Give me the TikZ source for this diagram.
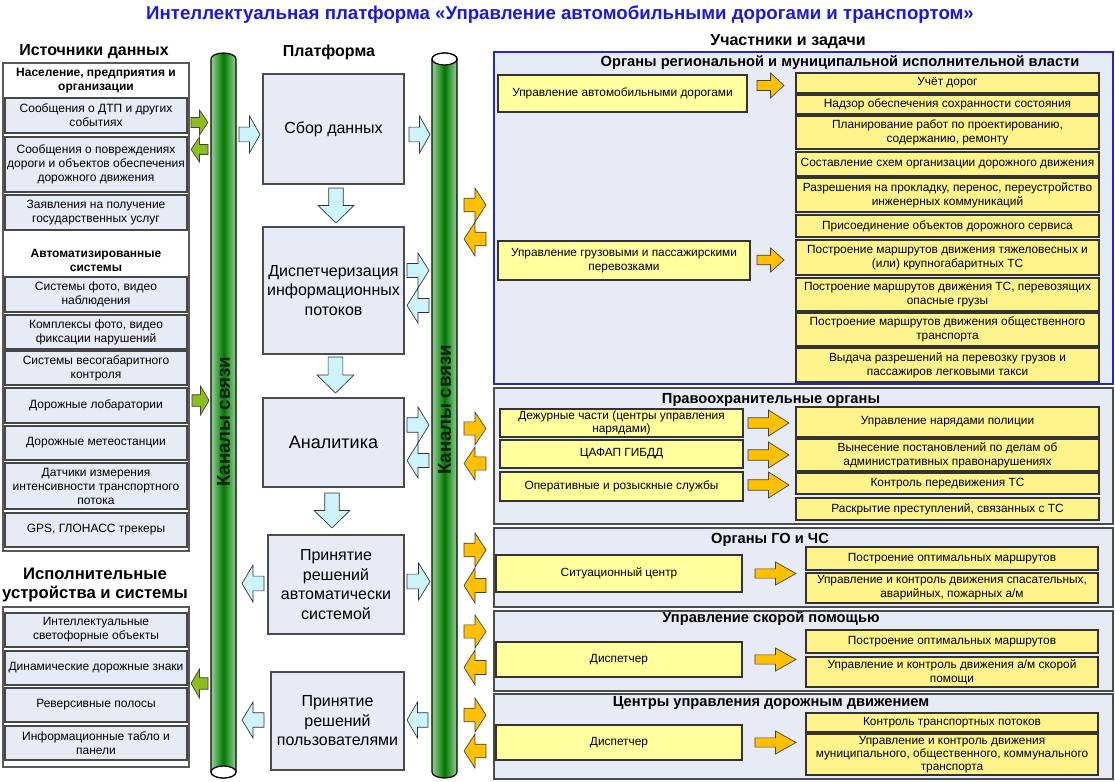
\documentclass[tikz,border=0pt]{standalone}
\usepackage{fontspec}
\setmainfont{Liberation Sans}
\definecolor{titleblue}{RGB}{25,25,228}
\definecolor{boxfill}{RGB}{230,235,245}
\definecolor{panelfill}{RGB}{231,235,245}
\definecolor{panelblue}{RGB}{40,40,195}
\definecolor{yelL}{RGB}{255,255,158}
\definecolor{yelR}{RGB}{255,244,140}
\definecolor{cyanfill}{RGB}{204,244,250}
\definecolor{orangefill}{RGB}{255,192,0}
\definecolor{greenarr}{RGB}{140,190,30}
\definecolor{pipeL}{RGB}{150,210,150}
\definecolor{pipeD}{RGB}{0,118,0}
\definecolor{pipetext}{RGB}{10,30,10}

\newcommand\bx[7]{%
 \pgfmathsetmacro\bxW{(#4-#2)*0.75}%
 \pgfmathsetmacro\bxH{(#5-#3)*0.75}%
 \node[#6, minimum width=\bxW pt, minimum height=\bxH pt] (#1) at ({(#2+#4)/2},{(#3+#5)/2}) {#7};}

\newcommand\arR[5]{%
 \pgfmathsetmacro\arwW{#3-#1}\pgfmathsetmacro\arwH{#4-#2}%
 \begin{scope}[shift={(#1,#2)}, xscale=\arwW, yscale=\arwH]
 \draw[#5] (0,0.3)--(0.5,0.3)--(0.5,0)--(1,0.5)--(0.5,1)--(0.5,0.7)--(0,0.7)--cycle;
 \end{scope}}
\newcommand\arL[5]{%
 \pgfmathsetmacro\arwW{#3-#1}\pgfmathsetmacro\arwH{#4-#2}%
 \begin{scope}[shift={(#3,#2)}, xscale=-\arwW, yscale=\arwH]
 \draw[#5] (0,0.3)--(0.5,0.3)--(0.5,0)--(1,0.5)--(0.5,1)--(0.5,0.7)--(0,0.7)--cycle;
 \end{scope}}
\newcommand\arD[5]{%
 \pgfmathsetmacro\arwW{#3-#1}\pgfmathsetmacro\arwH{#4-#2}%
 \begin{scope}[shift={(#1,#2)}, xscale=\arwW, yscale=\arwH]
 \draw[#5] (0.3,0)--(0.7,0)--(0.7,0.5)--(1,0.5)--(0.5,1)--(0,0.5)--(0.3,0.5)--cycle;
 \end{scope}}

\tikzset{
 lbox/.style={draw=black!72, line width=0.9pt, fill=boxfill, align=center, inner sep=0pt, font=\fontsize{9}{10.5}\selectfont},
 outerbox/.style={draw=black!65, line width=0.9pt, fill=white},
 cbox/.style={draw=black!70, line width=0.8pt, fill=boxfill, align=center, inner sep=0pt, font=\fontsize{12}{14.6}\selectfont},
 ybox/.style={draw=black!80, line width=0.8pt, fill=yelL, align=center, inner sep=0pt, font=\fontsize{8.9}{10.3}\selectfont},
 ybox2/.style={ybox, fill=yelR},
 panel/.style={draw=black!70, line width=1pt, fill=panelfill, inner sep=0pt},
 head/.style={font=\bfseries\fontsize{12}{14.2}\selectfont, align=center},
 ptitle/.style={font=\bfseries\fontsize{11}{13}\selectfont},
 sub/.style={font=\bfseries\fontsize{9}{10.5}\selectfont, align=center},
 carr/.style={draw=black!80, line width=0.5pt, fill=cyanfill},
 oarr/.style={draw=black!75, line width=0.5pt, fill=orangefill},
 garr/.style={draw=black!75, line width=0.5pt, fill=greenarr},
 pipetxt/.style={rotate=90, font=\bfseries\fontsize{14}{16}\selectfont, text=pipetext},
}

\begin{document}
\begin{tikzpicture}[x=0.75pt,y=-0.75pt]
\useasboundingbox (0,0) rectangle (1115,782);
\fill[white] (0,0) rectangle (1115,782);

% title and headings
\node[font=\bfseries\fontsize{14}{16}\selectfont, text=titleblue] (title) at (560,15) {Интеллектуальная платформа «Управление автомобильными дорогами и транспортом»};
\node[head] (h1) at (94,52) {Источники данных};
\node[head] (h2) at (329,52) {Платформа};
\node[head] (h3) at (788,42) {Участники и задачи};

% ---------- left column ----------
\bx{out1}{3}{63}{189}{551}{outerbox}{}
\node[sub] (sub1) at (96,81) {Население, предприятия и\\организации};
\bx{s1}{5}{98}{187}{133}{lbox}{Сообщения о ДТП и других\\событиях}
\bx{s2}{5}{137}{187}{192}{lbox}{Сообщения о повреждениях\\дороги и объектов обеспечения\\дорожного движения}
\bx{s3}{5}{195}{187}{230}{lbox}{Заявления на получение\\государственных услуг}
\node[sub] (sub2) at (96,260) {Автоматизированные\\системы};
\bx{s4}{5}{277}{187}{312}{lbox}{Системы фото, видео\\наблюдения}
\bx{s5}{5}{315}{187}{349}{lbox}{Комплексы фото, видео\\фиксации нарушений}
\bx{s6}{5}{351}{187}{385}{lbox}{Системы весогабаритного\\контроля}
\bx{s7}{5}{388}{187}{423}{lbox}{Дорожные лобаратории}
\bx{s8}{5}{426}{187}{460}{lbox}{Дорожные метеостанции}
\bx{s9}{5}{463}{187}{509}{lbox}{Датчики измерения\\интенсивности транспортного\\потока}
\bx{s10}{5}{513}{187}{547}{lbox}{GPS, ГЛОНАСС трекеры}

\node[head, font=\bfseries\fontsize{12.5}{14.5}\selectfont] (h4) at (95,585) {Исполнительные\\устройства и системы};
\bx{out2}{3}{607}{189}{767}{outerbox}{}
\bx{e1}{5}{613}{187}{647}{lbox}{Интеллектуальные\\светофорные объекты}
\bx{e2}{5}{651}{187}{685}{lbox}{Динамические дорожные знаки}
\bx{e3}{5}{688}{187}{722}{lbox}{Реверсивные полосы}
\bx{e4}{5}{726}{187}{760}{lbox}{Информационные табло и\\панели}

% green arrows
\arR{191}{110}{208}{135}{garr}
\arL{191}{137}{208}{162}{garr}
\arR{192}{386}{209}{415}{garr}
\arL{191}{669}{208}{698}{garr}

% ---------- pipes ----------
\shade[left color=pipeL, right color=pipeL, middle color=pipeD]
 (211,59) -- (211,772) arc[start angle=180,end angle=360,x radius=9.375pt,y radius=4.5pt]
 -- (236,59) arc[start angle=0,end angle=180,x radius=9.375pt,y radius=4.5pt] -- cycle;
\draw[line width=0.9pt]
 (211,59) -- (211,772) arc[start angle=180,end angle=360,x radius=9.375pt,y radius=4.5pt]
 -- (236,59) arc[start angle=0,end angle=180,x radius=9.375pt,y radius=4.5pt] -- cycle;
\draw[line width=0.9pt, fill=white] (223.5,772) ellipse[x radius=9.375pt,y radius=4.5pt];
\node[pipetxt] (pipe1) at (223.5,422) {Каналы связи};

\shade[left color=pipeL, right color=pipeL, middle color=pipeD]
 (432,59) -- (432,772) arc[start angle=180,end angle=360,x radius=9.375pt,y radius=4.5pt]
 -- (457,59) arc[start angle=0,end angle=180,x radius=9.375pt,y radius=4.5pt] -- cycle;
\draw[line width=0.9pt]
 (432,59) -- (432,772) arc[start angle=180,end angle=360,x radius=9.375pt,y radius=4.5pt]
 -- (457,59) arc[start angle=0,end angle=180,x radius=9.375pt,y radius=4.5pt] -- cycle;
\draw[line width=0.9pt, fill=white] (444.5,59) ellipse[x radius=9.375pt,y radius=4.5pt];
\node[pipetxt] (pipe2) at (444.5,410) {Каналы связи};

% ---------- platform ----------
\bx{c1}{263}{74}{404}{184}{cbox}{Сбор данных}
\bx{c2}{263}{227}{404}{354}{cbox}{Диспетчеризация\\информационных\\потоков}
\bx{c3}{263}{398}{404}{487}{cbox, font=\fontsize{13.5}{16}\selectfont}{Аналитика}
\bx{c4}{268}{535}{404}{634}{cbox}{Принятие\\решений\\автоматически\\системой}
\bx{c5}{271}{672}{404}{770}{cbox}{Принятие\\решений\\пользователями}

\arR{239}{116}{260}{153}{carr}
\arR{409}{116}{430}{153}{carr}
\arD{318}{188}{354}{223}{carr}
\arR{407}{253}{429}{288}{carr}
\arL{407}{288}{429}{323}{carr}
\arD{317}{357}{354}{393}{carr}
\arR{407}{407}{429}{443}{carr}
\arL{407}{443}{429}{478}{carr}
\arD{314}{493}{350}{528}{carr}
\arL{242}{565}{264}{602}{carr}
\arR{407}{563}{430}{600}{carr}
\arL{242}{702}{264}{738}{carr}
\arL{407}{702}{428}{738}{carr}

% orange arrows between pipe and panels
\arR{464}{188}{486}{222}{oarr}
\arL{464}{222}{486}{256}{oarr}
\arR{464}{412}{486}{445}{oarr}
\arL{464}{447}{486}{480}{oarr}
\arR{464}{533}{486}{567}{oarr}
\arL{464}{568}{486}{603}{oarr}
\arR{464}{615}{486}{648}{oarr}
\arL{464}{650}{486}{685}{oarr}
\arR{464}{698}{486}{732}{oarr}
\arL{464}{734}{486}{768}{oarr}

% ---------- panels ----------
\bx{p1}{494}{52}{1113}{384}{panel, draw=panelblue, line width=1.3pt}{}
\bx{p2}{494}{388}{1113}{524}{panel}{}
\bx{p3}{494}{528}{1113}{607}{panel}{}
\bx{p4}{494}{611}{1113}{691}{panel}{}
\bx{p5}{494}{694}{1113}{779}{panel}{}

\node[ptitle] (t1) at (840,63) {Органы региональной и муниципальной исполнительной власти};
\node[ptitle] (t2) at (771,400) {Правоохранительные органы};
\node[ptitle] (t3) at (770,540) {Органы ГО и ЧС};
\node[ptitle] (t4) at (771,619) {Управление скорой помощью};
\node[ptitle] (t5) at (771,703) {Центры управления дорожным движением};

% panel 1
\bx{y1}{498}{75}{747}{112}{ybox}{Управление автомобильными дорогами}
\bx{y2}{498}{241}{750}{280}{ybox}{Управление грузовыми и пассажирскими\\перевозками}
\arR{757}{73}{784}{98}{oarr}
\arR{757}{248}{784}{272}{oarr}
\bx{r1}{796}{73}{1099}{93}{ybox2}{Учёт дорог}
\bx{r2}{796}{95}{1099}{114}{ybox2}{Надзор обеспечения сохранности состояния}
\bx{r3}{796}{116}{1099}{149}{ybox2}{Планирование работ по проектированию,\\содержанию, ремонту}
\bx{r4}{796}{152}{1099}{176}{ybox2}{Составление схем организации дорожного движения}
\bx{r5}{796}{178}{1099}{212}{ybox2}{Разрешения на прокладку, перенос, переустройство\\инженерных коммуникаций}
\bx{r6}{796}{215}{1099}{237}{ybox2}{Присоединение объектов дорожного сервиса}
\bx{r7}{796}{240}{1099}{275}{ybox2}{Построение маршрутов движения тяжеловесных и\\(или) крупногабаритных ТС}
\bx{r8}{796}{278}{1099}{311}{ybox2}{Построение маршрутов движения ТС, перевозящих\\опасные грузы}
\bx{r9}{796}{313}{1099}{346}{ybox2}{Построение маршрутов движения общественного\\транспорта}
\bx{r10}{796}{348}{1099}{382}{ybox2}{Выдача разрешений на перевозку грузов и\\пассажиров легковыми такси}

% panel 2
\bx{l1}{500}{409}{743}{437}{ybox}{Дежурные части (центры управления\\нарядами)}
\bx{l2}{500}{440}{743}{468}{ybox}{ЦАФАП ГИБДД}
\bx{l3}{500}{472}{743}{501}{ybox}{Оперативные и розыскные службы}
\arR{748}{410}{789}{436}{oarr}
\arR{748}{442}{789}{468}{oarr}
\arR{748}{472}{789}{498}{oarr}
\bx{q1}{796}{407}{1099}{437}{ybox2}{Управление нарядами полиции}
\bx{q2}{796}{439}{1099}{471}{ybox2}{Вынесение постановлений по делам об\\административных правонарушениях}
\bx{q3}{796}{473}{1099}{494}{ybox2}{Контроль передвижения ТС}
\bx{q4}{796}{498}{1099}{520}{ybox2}{Раскрытие преступлений, связанных с ТС}

% panel 3
\bx{g1}{496}{555}{742}{592}{ybox}{Ситуационный центр}
\arR{755}{562}{796}{585}{oarr}
\bx{g2}{806}{547}{1098}{570}{ybox2}{Построение оптимальных маршрутов}
\bx{g3}{806}{573}{1098}{603}{ybox2}{Управление и контроль движения спасательных,\\аварийных, пожарных а/м}

% panel 4
\bx{m1}{496}{642}{742}{677}{ybox}{Диспетчер}
\arR{755}{648}{796}{671}{oarr}
\bx{m2}{806}{630}{1098}{653}{ybox2}{Построение оптимальных маршрутов}
\bx{m3}{806}{657}{1098}{687}{ybox2}{Управление и контроль движения а/м скорой\\помощи}

% panel 5
\bx{d1}{496}{725}{742}{760}{ybox}{Диспетчер}
\arR{755}{731}{796}{754}{oarr}
\bx{d2}{806}{713}{1098}{732}{ybox2}{Контроль транспортных потоков}
\bx{d3}{806}{734}{1098}{775}{ybox2, font=\fontsize{8.9}{9.8}\selectfont}{Управление и контроль движения\\муниципального, общественного, коммунального\\транспорта}
\end{tikzpicture}
\end{document}
